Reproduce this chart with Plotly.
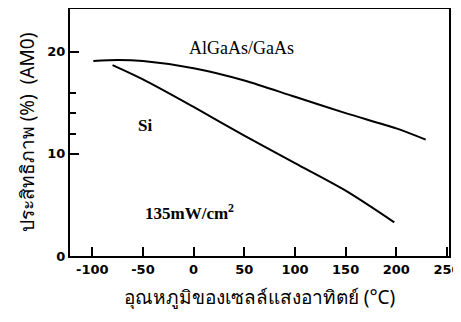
import plotly.graph_objects as go

# AlGaAs/GaAs efficiency vs temperature
algaas_t = [-99, -75, -50, 0, 50, 100, 150, 200, 229]
algaas_eff = [19.1, 19.2, 19.1, 18.4, 17.2, 15.6, 14.0, 12.5, 11.4]
# Si efficiency vs temperature
si_t = [-80, -50, 0, 50, 100, 150, 198]
si_eff = [18.7, 17.3, 14.6, 11.8, 9.1, 6.4, 3.3]

x_ticks = [-100, -50, 0, 50, 100, 150, 200, 250]
x_tick_labels = ["-100", "-50", "0", "50", "100", "150", "200", "250"]
y_ticks = [0, 10, 20]
y_minor_ticks = [12, 14, 16]

fig = go.Figure()
fig.add_trace(go.Scatter(x=algaas_t, y=algaas_eff, mode="lines",
                         line=dict(color="black", width=2, shape="spline", smoothing=0.8)))
fig.add_trace(go.Scatter(x=si_t, y=si_eff, mode="lines",
                         line=dict(color="black", width=2, shape="spline", smoothing=0.8)))

serif = "Liberation Serif, Times New Roman, serif"
fig.add_annotation(x=47, y=20.4, text="AlGaAs/GaAs", showarrow=False, font=dict(family=serif, size=18, color="black"))
fig.add_annotation(x=-48, y=12.8, text="<b>Si</b>", showarrow=False, font=dict(family=serif, size=17, color="black"))
fig.add_annotation(x=-4, y=4.3, text="<b>135mW/cm<sup>2</sup></b>", showarrow=False, font=dict(family=serif, size=17, color="black"))

axis_font = dict(family="DejaVu Sans, sans-serif", size=13, color="black", weight="bold")
thai_font = dict(family="Noto Sans, sans-serif", size=19, color="black")
fig.update_layout(
    width=453, height=314,
    margin=dict(l=62, r=12, t=1, b=66),
    paper_bgcolor="white", plot_bgcolor="white",
    showlegend=False,
    xaxis=dict(range=[-122, 252], tickmode="array", tickvals=x_ticks, ticktext=x_tick_labels, automargin=False,
               ticks="inside", ticklen=9, tickwidth=1.5, tickcolor="black",
               ticklabeloverflow="allow",
               showline=True, linewidth=2, linecolor="black", mirror=True, showgrid=False, zeroline=False,
               tickfont=axis_font,
               title=dict(text="อุณหภูมิของเซลล์แสงอาทิตย์ (°C)", font=thai_font, standoff=15)),
    yaxis=dict(range=[0, 24.2], tickmode="array", tickvals=y_ticks, automargin=False,
               ticks="inside", ticklen=9, tickwidth=1.5, tickcolor="black",
               minor=dict(tickmode="array", tickvals=y_minor_ticks, ticks="inside", ticklen=6, tickwidth=1.5, tickcolor="black"),
               showline=True, linewidth=2, linecolor="black", mirror=True, showgrid=False, zeroline=False,
               tickfont=axis_font,
               title=dict(text="ประสิทธิภาพ (%)  (AM0)", font=thai_font, standoff=8)),
)

fig.write_html("out.html")
